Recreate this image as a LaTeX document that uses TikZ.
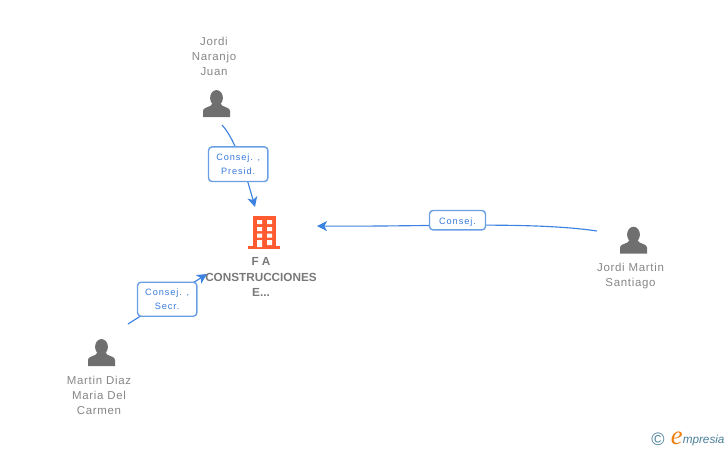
\documentclass[tikz,border=0pt]{standalone}
\usepackage{fontspec}
\setmainfont{Liberation Sans}
\newfontfamily\plainfam[LetterSpace=6]{Liberation Sans}
\newfontfamily\boxfam[LetterSpace=10]{Liberation Sans}
\newfontfamily\logoe{Liberation Serif}
\usetikzlibrary{arrows.meta}
\definecolor{linkblue}{HTML}{3C82E0}
\definecolor{boxblue}{HTML}{6A9FE6}
\definecolor{boxtext}{HTML}{3A7BDC}
\definecolor{persongray}{HTML}{6F6F6F}
\definecolor{labelgray}{HTML}{868686}
\definecolor{bldorange}{HTML}{FF5A30}
\definecolor{logoteal}{HTML}{4A7F99}
\definecolor{logoorange}{HTML}{F08010}
\tikzset{
  x=0.75pt,y=-0.75pt,
  conn/.style={draw=linkblue,line width=0.85pt},
  connarrow/.style={conn,-{Stealth[length=7.5pt,width=7.5pt,inset=2pt]}},
  tagbox/.style={draw=boxblue,line width=1.05pt,rounded corners=2.6pt,fill=white,inner sep=0pt,align=center,
     font=\boxfam\fontsize{6.9}{11.25}\selectfont,text=boxtext},
  personlabel/.style={align=center,inner sep=0pt,font=\plainfam\fontsize{8.6}{11.25}\selectfont,text=labelgray},
  companylabel/.style={align=center,inner sep=0pt,font=\bfseries\fontsize{8.8}{11.6}\selectfont,text=labelgray!90!black},
  iconbox/.style={minimum width=20.25pt,minimum height=20.25pt,inner sep=0pt},
  person/.pic={
    \fill[persongray] (0,-5.6) ellipse [x radius=6.4,y radius=7.9];
    \fill[persongray] (-13.5,13.5) -- (-13.5,7.5) .. controls (-13.5,4.5) and (-9.5,4) .. (-6,2.3)
       -- (-4,0) -- (4,0) -- (6,2.3) .. controls (9.5,4) and (13.5,4.5) .. (13.5,7.5) -- (13.5,13.5) -- cycle;
  }
}
\begin{document}
\begin{tikzpicture}
\useasboundingbox (0,0) rectangle (728,450);
% icons
\node[iconbox] (p1) at (216.5,103.5) {};
\node[iconbox] (p2) at (633.5,240.2) {};
\node[iconbox] (p3) at (101.5,352.5) {};
\pic at (216.5,103.5) {person};
\pic at (633.5,240.2) {person};
\pic at (101.5,352.5) {person};
% building
\node[minimum width=24pt,minimum height=25pt,inner sep=0pt] (bld) at (264,232.5) {};
\fill[bldorange] (253,216) rectangle (276,246);
\fill[bldorange] (248,246) rectangle (280,249);
\fill[white] (257,220) rectangle (262,224) (267,220) rectangle (272,224)
  (257,227) rectangle (262,231) (267,227) rectangle (272,231)
  (257,233.5) rectangle (262,237.5) (267,233.5) rectangle (272,237.5)
  (257,240) rectangle (262,247) (267,240) rectangle (272,245);
% connector ends
\coordinate (s1) at (222,125);
\coordinate (t1) at (255,207);
\coordinate (s2) at (128,324);
\coordinate (t2) at (207,274);
\coordinate (s3) at (597,231);
\coordinate (t3) at (317,226);
\draw[connarrow] (s1) .. controls (236,140) and (246,175) .. (t1);
\draw[connarrow] (s2) -- (t2);
\draw[connarrow] (s3) .. controls (530,221) and (420,227) .. (t3);
% tags
\node[tagbox,minimum width=44.5pt,minimum height=26pt] (b1) at (238.2,164.2) {\raisebox{-0.5pt}{Consej. ,}\\Presid.};
\node[tagbox,minimum width=44.5pt,minimum height=25.5pt] (b2) at (167.2,299.2) {\raisebox{-0.4pt}{Consej. ,}\\Secr.};
\node[tagbox,minimum width=42pt,minimum height=14.5pt] (b3) at (457.5,220.2) {\raisebox{-3pt}[0pt][0pt]{Consej.}};
% labels
\node[personlabel] (l1) at (214,56) {Jordi\\Naranjo\\Juan};
\node[personlabel] (l2) at (630.5,276) {Jordi Martin\\Santiago};
\node[personlabel] (l3) at (99,395) {Martin Diaz\\Maria Del\\Carmen};
\node[companylabel] (lc) at (261,277) {F A\\CONSTRUCCIONES\\E...};
% logo
\node[inner sep=0pt,text=logoteal,font=\fontsize{13.5}{14}\selectfont] (copy) at (658,439) {\textcopyright};
\node[inner sep=0pt,anchor=base west,text=logoorange,font=\logoe\itshape\fontsize{20}{20}\selectfont] (loge) at (670.5,444.5) {e};
\node[inner sep=0pt,anchor=base west,text=logoteal,font=\itshape\fontsize{8.8}{10}\selectfont] (logot) at (682.5,443) {mpresia};
\end{tikzpicture}
\end{document}
